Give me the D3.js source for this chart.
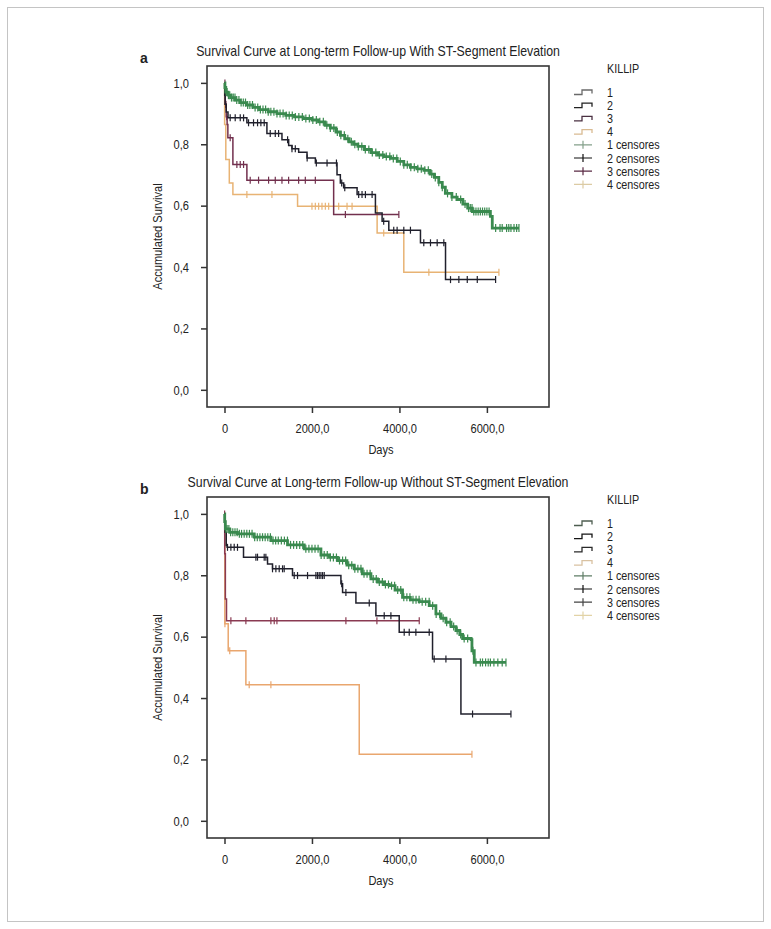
<!DOCTYPE html>
<html><head><meta charset="utf-8">
<script src="https://cdn.jsdelivr.net/npm/d3@7"></script>
<style>body{margin:0;background:#fff}svg{display:block}text{font-family:"Liberation Sans",Arial,sans-serif;fill:#222}</style>
</head><body><svg id="c" width="771" height="929"></svg>
<script>
// ---------- DATA ----------
const xTickValues = [0, 2000, 4000, 6000];
const xTickLabels = ["0", "2000,0", "4000,0", "6000,0"];
const yTickValues = [0, 0.2, 0.4, 0.6, 0.8, 1.0];
const yTickLabels = ["0,0", "0,2", "0,4", "0,6", "0,8", "1,0"];
const legendTitle = "KILLIP";
const killipLabels = ["1", "2", "3", "4"];
const censorLabels = ["1 censores", "2 censores", "3 censores", "4 censores"];
const titleA = "Survival Curve at Long-term Follow-up With ST-Segment Elevation";
const titleB = "Survival Curve at Long-term Follow-up Without ST-Segment Elevation";
const xAxisTitle = "Days";
const yAxisTitle = "Accumulated Survival";

// Panel a (with ST elevation): [day, survival] step points, end day, censor days
const aK1 = [[0,1.0],[10,0.985],[30,0.97],[80,0.96],[150,0.952],[250,0.944],[360,0.936],[500,0.928],[650,0.92],[800,0.913],[1000,0.906],[1200,0.9],[1400,0.894],[1600,0.889],[1800,0.884],[2000,0.879],[2150,0.873],[2300,0.862],[2420,0.853],[2550,0.84],[2650,0.829],[2750,0.818],[2850,0.808],[2950,0.8],[3050,0.793],[3200,0.783],[3350,0.773],[3500,0.765],[3650,0.76],[3800,0.754],[3950,0.744],[4100,0.733],[4250,0.725],[4400,0.72],[4560,0.715],[4700,0.703],[4800,0.692],[4900,0.676],[4980,0.66],[5050,0.64],[5200,0.628],[5320,0.62],[5450,0.605],[5560,0.592],[5665,0.581],[6080,0.565],[6123,0.527]];
const aK1End = 6733;
const aK1Cens = [20,40,60,90,120,160,200,240,280,330,380,430,480,530,580,640,700,760,820,880,940,1000,1060,1130,1200,1270,1340,1410,1480,1550,1620,1700,1780,1860,1940,2020,2100,2180,2260,2340,2420,2500,2580,2660,2740,2820,2900,2980,3060,3140,3220,3300,3380,3460,3540,3620,3700,3780,3860,3940,4020,4100,4180,4260,4340,4420,4500,4580,4660,4740,4820,4900,4980,5100,5200,5300,5400,5500,5580,5620,5660,5700,5750,5800,5850,5900,5950,6000,6050,6200,6300,6350,6450,6500,6550,6620,6680,6733];

const aK2 = [[0,1.0],[5,0.96],[15,0.93],[40,0.905],[80,0.886],[512,0.87],[970,0.835],[1314,0.815],[1467,0.796],[1543,0.785],[1696,0.774],[1887,0.755],[2078,0.739],[2573,0.701],[2649,0.674],[2725,0.658],[3032,0.636],[3451,0.576],[3604,0.549],[3757,0.52],[4481,0.479],[5054,0.359]];
const aK2End = 6199;
const aK2Cens = [130,245,360,436,550,664,756,832,908,1046,1161,1237,1443,1543,1619,1890,2100,2345,2560,2680,2750,3068,3145,3222,3375,3640,3870,3947,4100,4252,4557,4710,4863,5015,5168,5359,5551,5780,6199];

const aK3 = [[0,1.0],[15,0.93],[40,0.89],[60,0.864],[77,0.821],[192,0.734],[512,0.683],[2496,0.571]];
const aK3End = 3987;
const aK3Cens = [10,25,32,50,130,283,360,436,588,779,1008,1161,1314,1466,1695,1848,2077,2764,3987];

const aK4 = [[0,1.0],[3,0.864],[30,0.75],[110,0.674],[192,0.636],[1671,0.598],[3490,0.511],[4100,0.383]];
const aK4End = 6275;
const aK4Cens = [512,1085,2000,2077,2153,2229,2306,2382,2611,2802,2917,3641,4673,6275];

// Panel b (without ST elevation)
const bK1 = [[0,1.0],[5,0.975],[20,0.951],[120,0.94],[297,0.935],[679,0.924],[1061,0.913],[1441,0.899],[1823,0.886],[2205,0.866],[2400,0.858],[2585,0.848],[2800,0.833],[2966,0.821],[3150,0.805],[3348,0.788],[3500,0.778],[3652,0.77],[3766,0.766],[3900,0.752],[4071,0.728],[4250,0.72],[4453,0.714],[4681,0.701],[4834,0.674],[4950,0.66],[5063,0.647],[5180,0.633],[5292,0.62],[5380,0.607],[5444,0.594],[5640,0.59],[5658,0.554],[5711,0.516]];
const bK1End = 6436;
const bK1Cens = [10,30,60,100,140,190,240,290,340,390,450,510,570,630,690,750,810,870,930,990,1050,1110,1170,1230,1300,1370,1440,1510,1580,1650,1720,1790,1860,1930,2000,2070,2140,2210,2280,2350,2420,2490,2560,2630,2700,2770,2840,2910,2980,3050,3120,3190,3260,3330,3400,3470,3540,3610,3680,3750,3820,3890,3960,4030,4100,4170,4240,4310,4380,4450,4520,4600,4680,4760,4840,4920,5000,5080,5160,5240,5320,5400,5480,5560,5680,5750,5850,5900,5970,6030,6080,6160,6250,6350,6436];

const bK2 = [[0,1.0],[5,0.97],[15,0.94],[40,0.897],[60,0.891],[435,0.859],[984,0.837],[1098,0.821],[1555,0.799],[2662,0.772],[2700,0.744],[3005,0.71],[3462,0.668],[3995,0.614],[4757,0.527],[5406,0.348]];
const bK2End = 6550;
const bK2Cens = [69,146,222,297,718,755,908,946,1098,1175,1251,1327,1365,1594,1670,1899,2090,2128,2166,2205,2243,2281,2680,2776,3310,3652,3805,4109,4224,4376,4681,4795,5063,5672,6550];

const bK3 = [[0,1.0],[5,0.87],[20,0.723],[46,0.652]];
const bK3End = 4453;
const bK3Cens = [3,146,489,1061,1137,1199,2776,3485,4453];

const bK4 = [[0,1.0],[8,0.642],[85,0.554],[489,0.443],[3081,0.217]];
const bK4End = 5658;
const bK4Cens = [10,120,565,1061,5658];

// ---------- STYLE / LAYOUT ----------
const CONDENSE = 0.82;
const panels = [
  { letter: "a", title: titleA, top: 66,
    series: [
      { pts: aK1, end: aK1End, cens: aK1Cens, color: "#3a8a4f", width: 2.8, tick: 8 },
      { pts: aK2, end: aK2End, cens: aK2Cens, color: "#20202c", width: 1.5, tick: 7 },
      { pts: aK3, end: aK3End, cens: aK3Cens, color: "#72304e", width: 1.5, tick: 7 },
      { pts: aK4, end: aK4End, cens: aK4Cens, color: "#e8b374", width: 1.5, tick: 7 }
    ],
    legStep: ["#6a6a6a", "#222222", "#4a3042", "#d9bb92"],
    legCens: ["#84a08a", "#111111", "#5a2a44", "#dccba4"] },
  { letter: "b", title: titleB, top: 497,
    series: [
      { pts: bK1, end: bK1End, cens: bK1Cens, color: "#3a8a4f", width: 2.8, tick: 8 },
      { pts: bK2, end: bK2End, cens: bK2Cens, color: "#20202c", width: 1.5, tick: 7 },
      { pts: bK3, end: bK3End, cens: bK3Cens, color: "#8a3a52", width: 1.5, tick: 7 },
      { pts: bK4, end: bK4End, cens: bK4Cens, color: "#e9a66e", width: 1.5, tick: 7 }
    ],
    legStep: ["#4e5e50", "#151515", "#2a2a2a", "#d9c2a2"],
    legCens: ["#5f7d66", "#111111", "#444444", "#e2d3a6"] }
];

const svg = d3.select("#c");
svg.append("rect").attr("x", 7.5).attr("y", 7.5).attr("width", 756).attr("height", 914)
  .attr("fill", "none").attr("stroke", "#c4c4c4").attr("stroke-width", 1);

function condense(sel, f) {
  sel.each(function () {
    const len = this.getComputedTextLength();
    d3.select(this).attr("textLength", len * (f || CONDENSE)).attr("lengthAdjust", "spacingAndGlyphs");
  });
}

const boxL = 207, boxR = 549, boxH = 341;

panels.forEach(p => {
  const g = svg.append("g");
  const x = d3.scaleLinear().domain([-400, 7420]).range([boxL, boxR]);
  const y = d3.scaleLinear().domain([-0.056, 1.055]).range([p.top + boxH, p.top]);

  // letter + title
  g.append("text").attr("x", 140).attr("y", p.top - 3).attr("font-size", 14).attr("font-weight", "bold").text(p.letter);
  g.append("text").attr("x", 378).attr("y", p.top - 10).attr("text-anchor", "middle").attr("font-size", 15).text(p.title).call(condense);

  // axes
  const yAxis = d3.axisLeft(y).tickValues(yTickValues).tickSize(6).tickPadding(12)
    .tickFormat((d, i) => yTickLabels[i]);
  const ga = g.append("g").attr("transform", `translate(${boxL},0)`).call(yAxis);
  const xAxis = d3.axisBottom(x).tickValues(xTickValues).tickSize(6).tickPadding(10)
    .tickFormat((d, i) => xTickLabels[i]);
  const gb = g.append("g").attr("transform", `translate(0,${p.top + boxH})`).call(xAxis);
  [ga, gb].forEach(a => {
    a.select(".domain").remove();
    a.selectAll(".tick line").attr("stroke", "#333").attr("stroke-width", 1.5);
    a.selectAll(".tick text").attr("font-size", 13.5).attr("fill", "#333")
      .style("font-family", '"Liberation Sans",Arial,sans-serif').call(condense);
  });

  g.append("text").attr("x", 381).attr("y", p.top + boxH + 47).attr("text-anchor", "middle").attr("font-size", 13.5).text(xAxisTitle).call(condense);
  g.append("text").attr("transform", `translate(162,${p.top + boxH / 2}) rotate(-90)`).attr("text-anchor", "middle")
    .attr("font-size", 13.5).text(yAxisTitle).call(condense);

  // curves
  const line = d3.line().x(d => x(d[0])).y(d => y(d[1])).curve(d3.curveStepAfter);
  const plot = g.append("g");
  p.series.slice().reverse().forEach(s => {
    const pts = s.pts.concat([[s.end, s.pts[s.pts.length - 1][1]]]);
    plot.append("path").attr("d", line(pts)).attr("fill", "none").attr("stroke", s.color)
      .attr("stroke-width", s.width);
    const bis = d3.bisector(d => d[0]).right;
    const sv = d => y(s.pts[Math.max(0, bis(s.pts, d) - 1)][1]);
    plot.selectAll(null).data(s.cens).join("line")
      .attr("x1", d => x(d)).attr("x2", d => x(d))
      .attr("y1", d => sv(d) - s.tick / 2)
      .attr("y2", d => sv(d) + s.tick / 2)
      .attr("stroke", s.color).attr("stroke-width", 1.2);
  });

  // frame
  g.append("rect").attr("x", boxL).attr("y", p.top).attr("width", boxR - boxL).attr("height", boxH)
    .attr("fill", "none").attr("stroke", "#363636").attr("stroke-width", 1.6);

  // legend
  const lg = g.append("g");
  lg.append("text").attr("x", 607).attr("y", p.top + 7).attr("font-size", 12.5).text(legendTitle).call(condense, 0.86);
  const items = killipLabels.map((t, i) => ({ t, c: p.legStep[i], type: "step" }))
    .concat(censorLabels.map((t, i) => ({ t, c: p.legCens[i], type: "cens" })));
  items.forEach((it, i) => {
    const by = p.top + 30.5 + i * 13.2;
    const cy = by - 4.5;
    if (it.type === "step") {
      lg.append("path").attr("d", `M574,${cy + 2.5}H582V${cy - 2}H592V${cy + 1.5}`)
        .attr("fill", "none").attr("stroke", it.c).attr("stroke-width", 1.3);
    } else {
      lg.append("path").attr("d", `M574,${cy}H592M583,${cy - 4}V${cy + 4}`)
        .attr("fill", "none").attr("stroke", it.c).attr("stroke-width", 1.2);
    }
    lg.append("text").attr("x", 607).attr("y", by).attr("font-size", 12.5).text(it.t).call(condense, 0.86);
  });
});
</script></body></html>
